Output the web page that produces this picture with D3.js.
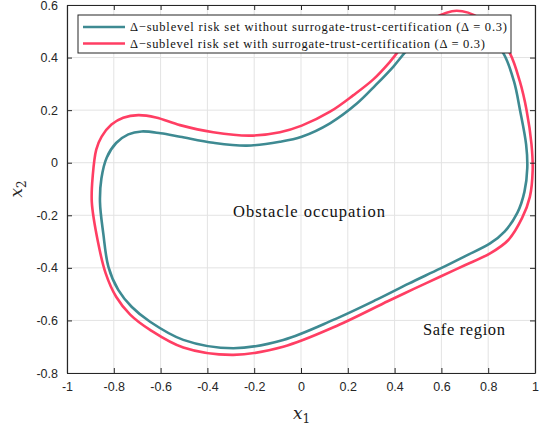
<!DOCTYPE html>
<html>
<head>
<meta charset="utf-8">
<script src="https://cdn.jsdelivr.net/npm/d3@7"></script>
<style>
  body { margin: 0; background: #fff; }
  svg { display: block; }
</style>
</head>
<body>
<script>
// tick values
const xTicks = [-1, -0.8, -0.6, -0.4, -0.2, 0, 0.2, 0.4, 0.6, 0.8, 1];
const yTicks = [-0.8, -0.6, -0.4, -0.2, 0, 0.2, 0.4, 0.6];

// boundary without surrogate-trust-certification
const innerSet = [
  [-0.859, -0.15], [-0.853, -0.06], [-0.83, 0.02], [-0.79, 0.075], [-0.738, 0.108],
  [-0.681, 0.119], [-0.6, 0.112], [-0.517, 0.099], [-0.375, 0.076], [-0.232, 0.065],
  [-0.09, 0.08], [0.003, 0.099], [0.124, 0.15], [0.24, 0.226], [0.32, 0.296],
  [0.394, 0.365], [0.455, 0.43], [0.525, 0.49], [0.6, 0.532], [0.67, 0.545],
  [0.74, 0.525], [0.805, 0.475], [0.865, 0.416], [0.91, 0.31], [0.936, 0.2],
  [0.962, 0.07], [0.967, -0.02], [0.955, -0.11], [0.925, -0.19], [0.87, -0.262],
  [0.808, -0.307], [0.7, -0.356], [0.594, -0.403], [0.46, -0.46], [0.323, -0.521],
  [0.138, -0.598], [-0.076, -0.674], [-0.289, -0.706], [-0.503, -0.674], [-0.645, -0.605],
  [-0.724, -0.548], [-0.781, -0.484], [-0.823, -0.396], [-0.845, -0.269]
];

// boundary with surrogate-trust-certification
const outerSet = [
  [-0.894, -0.15], [-0.89, -0.05], [-0.875, 0.05], [-0.852, 0.099], [-0.81, 0.145],
  [-0.76, 0.171], [-0.695, 0.181], [-0.62, 0.172], [-0.517, 0.143], [-0.375, 0.116],
  [-0.218, 0.103], [-0.09, 0.116], [0.003, 0.141], [0.124, 0.194], [0.224, 0.257],
  [0.309, 0.317], [0.38, 0.384], [0.44, 0.45], [0.5, 0.505], [0.566, 0.549],
  [0.665, 0.578], [0.765, 0.549], [0.84, 0.48], [0.893, 0.416], [0.935, 0.31],
  [0.964, 0.2], [0.985, 0.07], [0.99, -0.03], [0.978, -0.13], [0.945, -0.21],
  [0.885, -0.295], [0.808, -0.345], [0.7, -0.39], [0.594, -0.434], [0.48, -0.481],
  [0.373, -0.526], [0.152, -0.621], [-0.076, -0.7], [-0.289, -0.731], [-0.503, -0.703],
  [-0.645, -0.636], [-0.73, -0.578], [-0.79, -0.51], [-0.835, -0.42], [-0.868, -0.3]
];

const series = [
  { name: "\u0394\u2212sublevel risk set without surrogate-trust-certification (\u0394 = 0.3)", data: innerSet, color: "#3e8a92" },
  { name: "\u0394\u2212sublevel risk set with surrogate-trust-certification (\u0394 = 0.3)", data: outerSet, color: "#ff3e63" }
];

const W = 539, H = 431;
const margin = { left: 67, right: 4, top: 5, bottom: 58 };

const svg = d3.select("body").append("svg")
    .attr("width", W)
    .attr("height", H);

const x = d3.scaleLinear().domain([-1, 1]).range([margin.left, W - margin.right]);
const y = d3.scaleLinear().domain([-0.8, 0.6]).range([H - margin.bottom, margin.top]);

const axisColor = "#262626";

// grid
svg.append("g")
    .selectAll("line")
    .data(xTicks)
    .join("line")
    .attr("x1", d => x(d)).attr("x2", d => x(d))
    .attr("y1", y(-0.8)).attr("y2", y(0.6))
    .attr("stroke", "#e3e3e3").attr("stroke-width", 1);
svg.append("g")
    .selectAll("line")
    .data(yTicks)
    .join("line")
    .attr("y1", d => y(d)).attr("y2", d => y(d))
    .attr("x1", x(-1)).attr("x2", x(1))
    .attr("stroke", "#e3e3e3").attr("stroke-width", 1);

// curves
const line = d3.line()
    .x(d => x(d[0]))
    .y(d => y(d[1]))
    .curve(d3.curveCatmullRomClosed.alpha(0.5));

svg.append("g")
    .selectAll("path")
    .data(series)
    .join("path")
    .attr("d", d => line(d.data))
    .attr("fill", "none")
    .attr("stroke", d => d.color)
    .attr("stroke-width", 2.6)
    .attr("stroke-linejoin", "round");

// axes
const tickFmt = d => String(+d.toFixed(1));

const xAxis = svg.append("g")
    .attr("transform", `translate(0,${y(-0.8)})`)
    .call(d3.axisBottom(x).tickValues(xTicks).tickFormat(tickFmt).tickSizeInner(-5).tickSizeOuter(0).tickPadding(9));
const yAxis = svg.append("g")
    .attr("transform", `translate(${x(-1)},0)`)
    .call(d3.axisLeft(y).tickValues(yTicks).tickFormat(tickFmt).tickSizeInner(-5).tickSizeOuter(0).tickPadding(9));
const xTop = svg.append("g")
    .attr("transform", `translate(0,${y(0.6)})`)
    .call(d3.axisTop(x).tickValues(xTicks).tickFormat("").tickSizeInner(-5).tickSizeOuter(0));
const yRight = svg.append("g")
    .attr("transform", `translate(${x(1)},0)`)
    .call(d3.axisRight(y).tickValues(yTicks).tickFormat("").tickSizeInner(-5).tickSizeOuter(0));

[xAxis, yAxis, xTop, yRight].forEach(g => {
  g.select(".domain").attr("stroke", axisColor).attr("stroke-width", 1.2);
  g.selectAll(".tick line").attr("stroke", axisColor).attr("stroke-width", 1);
  g.selectAll(".tick text")
      .attr("fill", axisColor)
      .style("font-family", "'Liberation Sans', Arial, sans-serif")
      .style("font-size", "12.5px");
});

// axis labels
svg.append("text")
    .attr("x", x(0) - 8).attr("y", H - 12)
    .style("font-family", "'DejaVu Serif', serif")
    .style("font-style", "italic")
    .style("font-size", "17px")
    .attr("fill", axisColor)
    .html('x<tspan dy="4" font-size="12" font-style="normal">1</tspan>');

svg.append("text")
    .attr("transform", `translate(22,${y(-0.1)}) rotate(-90)`)
    .style("font-family", "'DejaVu Serif', serif")
    .style("font-style", "italic")
    .style("font-size", "17px")
    .attr("fill", axisColor)
    .attr("text-anchor", "middle")
    .html('x<tspan dy="4" font-size="12" font-style="normal">2</tspan>');

// annotations
svg.append("text")
    .attr("x", 233).attr("y", 217)
    .style("font-family", "'Liberation Serif', serif")
    .style("font-size", "16.5px")
    .attr("fill", "#111")
    .attr("textLength", 152)
    .text("Obstacle occupation");
svg.append("text")
    .attr("x", 423).attr("y", 335)
    .style("font-family", "'Liberation Serif', serif")
    .style("font-size", "16.5px")
    .attr("fill", "#111")
    .attr("textLength", 82)
    .text("Safe region");

// legend
const lg = svg.append("g").attr("transform", "translate(78,15)");
lg.append("rect")
    .attr("width", 433).attr("height", 38)
    .attr("fill", "#fff")
    .attr("stroke", axisColor).attr("stroke-width", 1);
const row = lg.selectAll("g.row")
    .data(series)
    .join("g")
    .attr("class", "row")
    .attr("transform", (d, i) => `translate(0,${12 + i * 16.5})`);
row.append("line")
    .attr("x1", 5).attr("x2", 47)
    .attr("stroke", d => d.color).attr("stroke-width", 2.6);
row.append("text")
    .attr("x", 52).attr("dy", "0.35em")
    .style("font-family", "'Liberation Serif', serif")
    .style("font-size", "12.5px")
    .attr("fill", "#111")
    .attr("textLength", (d, i) => i === 0 ? 377 : 355)
    .text(d => d.name);
</script>
</body>
</html>
